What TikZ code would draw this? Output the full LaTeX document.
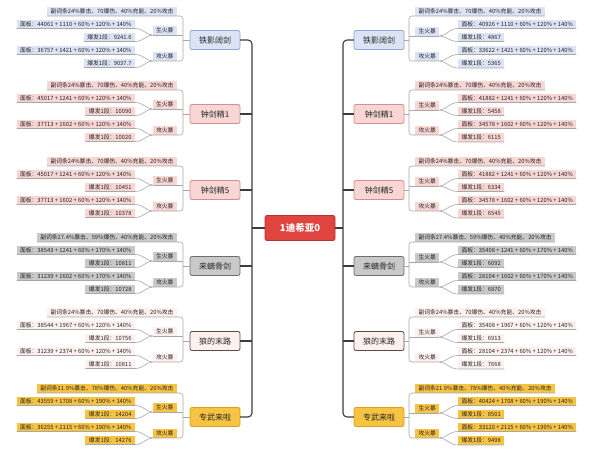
\documentclass[tikz,border=0pt]{standalone}
\usepackage{fontspec}
\setmainfont{Noto Sans CJK SC}
\definecolor{cblue}{HTML}{DBE3F4}\definecolor{bblue}{HTML}{8EA7D8}
\definecolor{cpink}{HTML}{F8D6D4}\definecolor{bpink}{HTML}{D98C8A}
\definecolor{cgray}{HTML}{C9C9C9}\definecolor{bgray}{HTML}{6E6E6E}
\definecolor{cwolf}{HTML}{FDF1EF}\definecolor{bwolf}{HTML}{5A4A48}
\definecolor{cgold}{HTML}{F6C342}\definecolor{bgold}{HTML}{D9A21A}
\definecolor{cred}{HTML}{E0453F}\definecolor{bred}{HTML}{B83030}
\definecolor{connc}{HTML}{A8A8A8}
\definecolor{trunkc}{HTML}{3C3C3C}
\newcommand\pl{\hspace{1.3pt}+\hspace{1.3pt}}
\tikzset{
  leafbase/.style={inner xsep=3.5pt,inner ysep=1.4pt,outer sep=0pt,text height=5pt,text depth=1pt,font=\fontsize{5.8}{6}\selectfont,text=black!85},
  weapbase/.style={draw,rounded corners=2pt,line width=0.8pt,minimum width=50pt,minimum height=19pt,outer sep=0pt,font=\fontsize{8}{9}\selectfont,text=black!85},
  leafblue/.style={leafbase,fill=cblue},
  leafpink/.style={leafbase,fill=cpink},
  leafgray/.style={leafbase,fill=cgray},
  leafwolf/.style={leafbase,fill=cwolf},
  leafgold/.style={leafbase,fill=cgold},
  weapblue/.style={weapbase,fill=cblue,draw=bblue},
  weappink/.style={weapbase,fill=cpink,draw=bpink},
  weapgray/.style={weapbase,fill=cgray,draw=bgray},
  weapwolf/.style={weapbase,fill=cwolf,draw=bwolf},
  weapgold/.style={weapbase,fill=cgold,draw=bgold},
  conn/.style={draw=connc,line width=0.6pt},
  trunk/.style={draw=trunkc,line width=1.1pt,rounded corners=4pt},
  centerbox/.style={draw=bred,fill=cred,line width=0.8pt,rounded corners=2pt,minimum width=70pt,minimum height=25pt,font=\fontsize{9.5}{10}\selectfont\bfseries,text=white},
}
\newcommand\Lgrp[9]{%
  \node[weap#3] (#1w) at (215,#2) {#4};
  \node[leaf#3,anchor=south east] (#1s) at (177,#2-24) {#5};
  \node[leaf#3,anchor=south east] (#1ga) at (177,#2-5) {生火暴};
  \node[leaf#3,anchor=south east] (#1gb) at (177,#2+21) {攻火暴};
  \node[leaf#3,anchor=south east] (#1pa) at (135,#2-11.5) {面板：#6};
  \node[leaf#3,anchor=south east] (#1ba) at (135,#2+1.5) {爆发1段：#7};
  \node[leaf#3,anchor=south east] (#1pb) at (135,#2+14.5) {面板：#8};
  \node[leaf#3,anchor=south east] (#1bb) at (135,#2+27.5) {爆发1段：#9};
  \draw[conn,rounded corners=3pt] (#1s.south west) -- (#1s.south east) -- (183,#2-24) -- (183,#2+21) -- (#1gb.south east) -- (#1gb.south west);
  \draw[conn] (#1ga.south west) -- (183,#2-5);
  \draw[conn] (#1w.west) -- (183,#2);
  \draw[conn] (#1pa.south west) -- (#1pa.south east) .. controls +(9,0) and +(-7,0) .. (#1ga.south west);
  \draw[conn] (#1ba.south west) -- (#1ba.south east) .. controls +(9,0) and +(-7,0) .. (#1ga.south west);
  \draw[conn] (#1pb.south west) -- (#1pb.south east) .. controls +(9,0) and +(-7,0) .. (#1gb.south west);
  \draw[conn] (#1bb.south west) -- (#1bb.south east) .. controls +(9,0) and +(-7,0) .. (#1gb.south west);
}
\newcommand\Rgrp[9]{%
  \node[weap#3] (#1w) at (379,#2) {#4};
  \node[leaf#3,anchor=south west] (#1s) at (415,#2-24) {#5};
  \node[leaf#3,anchor=south west] (#1ga) at (415,#2-4) {生火暴};
  \node[leaf#3,anchor=south west] (#1gb) at (415,#2+21) {攻火暴};
  \node[leaf#3,anchor=south west] (#1pa) at (458,#2-11.5) {面板：#6};
  \node[leaf#3,anchor=south west] (#1ba) at (458,#2+1.5) {爆发1段：#7};
  \node[leaf#3,anchor=south west] (#1pb) at (458,#2+14.5) {面板：#8};
  \node[leaf#3,anchor=south west] (#1bb) at (458,#2+28) {爆发1段：#9};
  \draw[conn,rounded corners=3pt] (#1s.south east) -- (#1s.south west) -- (409,#2-24) -- (409,#2+21) -- (#1gb.south west) -- (#1gb.south east);
  \draw[conn] (#1ga.south east) -- (409,#2-4);
  \draw[conn] (#1w.east) -- (409,#2);
  \draw[conn] (#1pa.south east) -- (#1pa.south west) .. controls +(-9,0) and +(7,0) .. (#1ga.south east);
  \draw[conn] (#1ba.south east) -- (#1ba.south west) .. controls +(-9,0) and +(7,0) .. (#1ga.south east);
  \draw[conn] (#1pb.south east) -- (#1pb.south west) .. controls +(-9,0) and +(7,0) .. (#1gb.south east);
  \draw[conn] (#1bb.south east) -- (#1bb.south west) .. controls +(-9,0) and +(7,0) .. (#1gb.south east);
}
\begin{document}
\begin{tikzpicture}[x=1pt,y=-1pt]
\useasboundingbox[fill=white] (0,0) rectangle (600,451);
\node[centerbox] (c) at (300,228) {1迪希亚0};
% left
\Lgrp{La}{40}{blue}{铁影阔剑}{副词条24\%暴击、70爆伤、40\%充能、20\%攻击}{44061\pl1110\pl60\%\pl120\%\pl140\%}{9241.6}{36757\pl1421\pl60\%\pl120\%\pl140\%}{9037.7}
\Lgrp{Lb}{114}{pink}{钟剑精1}{副词条24\%暴击、70爆伤、40\%充能、20\%攻击}{45017\pl1241\pl60\%\pl120\%\pl140\%}{10090}{37713\pl1602\pl60\%\pl120\%\pl140\%}{10020}
\Lgrp{Lc}{190}{pink}{钟剑精5}{副词条24\%暴击、70爆伤、40\%充能、20\%攻击}{45017\pl1241\pl60\%\pl120\%\pl140\%}{10451}{37713\pl1602\pl60\%\pl120\%\pl140\%}{10378}
\Lgrp{Ld}{266}{gray}{来螭骨剑}{副词条27.4\%暴击、59\%爆伤、40\%充能、20\%攻击}{38543\pl1241\pl60\%\pl170\%\pl140\%}{10811}{31239\pl1602\pl60\%\pl170\%\pl140\%}{10728}
\Lgrp{Le}{341}{wolf}{狼的末路}{副词条24\%暴击、70爆伤、40\%充能、20\%攻击}{38544\pl1967\pl60\%\pl120\%\pl140\%}{10756}{31239\pl2374\pl60\%\pl120\%\pl140\%}{10811}
\Lgrp{Lf}{417}{gold}{专武来啦}{副词条21.9\%暴击、78\%爆伤、40\%充能、20\%攻击}{43559\pl1708\pl60\%\pl190\%\pl140\%}{14204}{36255\pl2115\pl60\%\pl190\%\pl140\%}{14276}
% right
\Rgrp{Ra}{40}{blue}{铁影阔剑}{副词条24\%暴击、70爆伤、40\%充能、20\%攻击}{40926\pl1110\pl60\%\pl120\%\pl140\%}{4867}{33622\pl1421\pl60\%\pl120\%\pl140\%}{5365}
\Rgrp{Rb}{114}{pink}{钟剑精1}{副词条24\%暴击、70爆伤、40\%充能、20\%攻击}{41882\pl1241\pl60\%\pl120\%\pl140\%}{5458}{34578\pl1602\pl60\%\pl120\%\pl140\%}{6115}
\Rgrp{Rc}{190}{pink}{钟剑精5}{副词条24\%暴击、70爆伤、40\%充能、20\%攻击}{41882\pl1241\pl60\%\pl120\%\pl140\%}{6334}{34578\pl1602\pl60\%\pl120\%\pl140\%}{6545}
\Rgrp{Rd}{266}{gray}{来螭骨剑}{副词条27.4\%暴击、59\%爆伤、40\%充能、20\%攻击}{35408\pl1241\pl60\%\pl170\%\pl140\%}{6092}{28104\pl1602\pl60\%\pl170\%\pl140\%}{6870}
\Rgrp{Re}{341}{wolf}{狼的末路}{副词条24\%暴击、70爆伤、40\%充能、20\%攻击}{35408\pl1967\pl60\%\pl120\%\pl140\%}{6913}{28104\pl2374\pl60\%\pl120\%\pl140\%}{7668}
\Rgrp{Rf}{417}{gold}{专武来啦}{副词条21.9\%暴击、78\%爆伤、40\%充能、20\%攻击}{40424\pl1708\pl60\%\pl190\%\pl140\%}{8501}{33120\pl2115\pl60\%\pl190\%\pl140\%}{9498}
% trunks
\coordinate (lj) at (252,228);
\coordinate (rj) at (343,228);
\draw[trunk] (c.west) -- (lj);
\draw[trunk] (Law.east) -| (lj) |- (Lfw.east);
\foreach \n in {Lb,Lc,Ld,Le} \draw[trunk] (\n w.east) -- (lj |- \n w.east);
\draw[trunk] (c.east) -- (rj);
\draw[trunk] (Raw.west) -| (rj) |- (Rfw.west);
\foreach \n in {Rb,Rc,Rd,Re} \draw[trunk] (\n w.west) -- (rj |- \n w.west);
\end{tikzpicture}
\end{document}
